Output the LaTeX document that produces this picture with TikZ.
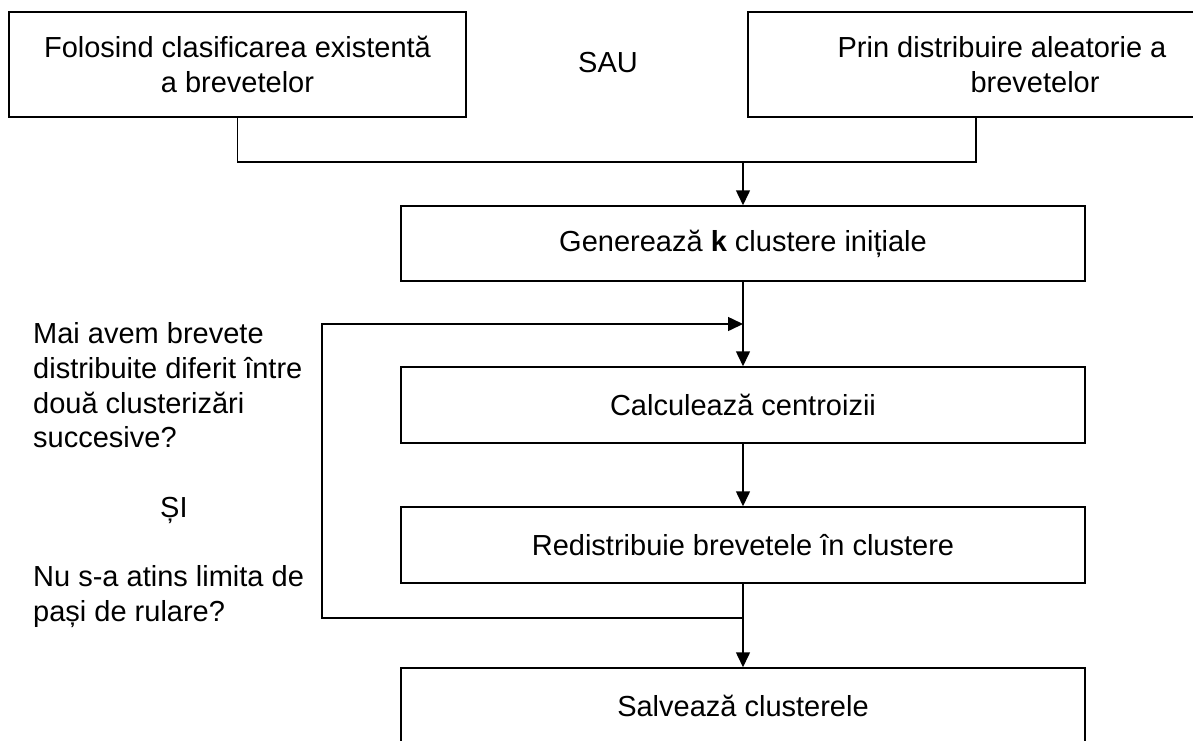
\documentclass[tikz,border=0pt]{standalone}
\usepackage{fontspec}
\setmainfont{Liberation Sans}
\usetikzlibrary{arrows.meta}
\tikzset{
  box/.style={draw, line width=1.5pt, rectangle, inner sep=0pt, align=center,
    font=\fontsize{29}{34.7}\selectfont},
  lbl/.style={inner sep=0pt, font=\fontsize{29}{34.7}\selectfont},
  conn/.style={line width=1.5pt},
  arr/.style={line width=1.5pt, -{Triangle[length=15pt,width=14pt]}}
}
\begin{document}
\begin{tikzpicture}[x=1pt,y=-1pt]
\clip (0,0) rectangle (1193,740);
\fill[white] (0,0) rectangle (1193,740);
% boxes
\node[box, minimum width=457pt, minimum height=105pt] (L) at (237.5,64.5)
  {Folosind clasificarea existentă\\a brevetelor};
\node[box, minimum width=508pt, minimum height=105pt] (R) at (1002,64.5)
  {Prin distribuire aleatorie a\\\hspace*{66pt}brevetelor};
\node[lbl] (sau) at (608,63) {SAU};
\node[box, minimum width=684pt, minimum height=75pt] (G) at (743,243.5)
  {Generează \textbf{k} clustere inițiale};
\node[box, minimum width=684pt, minimum height=76pt] (C) at (743,405)
  {Calculează centroizii};
\node[box, minimum width=684pt, minimum height=76pt] (Rd) at (743,545)
  {Redistribuie brevetele în clustere};
\node[box, minimum width=684pt, minimum height=76pt] (S) at (743,706)
  {Salvează clusterele};
% condition text
\node[lbl, anchor=west, align=left] (cond) at (33,475)
  {Mai avem brevete\\distribuite diferit între\\două clusterizări\\succesive?\\[34.7pt]\hspace*{127pt}ȘI\\[34.7pt]Nu s-a atins limita de\\pași de rulare?};
% junction coordinates
\coordinate (lj) at (237.5,162);
\coordinate (rj) at (976,162);
\coordinate (rb) at (976,117);
\coordinate (mj) at (743,162);
\coordinate (j1) at (743,618);
\coordinate (lp1) at (322,618);
\coordinate (lp2) at (322,324);
\coordinate (j2) at (743,324);
% connectors
\draw[conn] (L.south) -- (lj) -- (rj) -- (rb);
\draw[arr] (mj) -- (G.north);
\draw[arr] (G.south) -- (C.north);
\draw[arr] (C.south) -- (Rd.north);
\draw[arr] (Rd.south) -- (S.north);
\draw[arr] (j1) -- (lp1) -- (lp2) -- (j2);
\end{tikzpicture}
\end{document}
